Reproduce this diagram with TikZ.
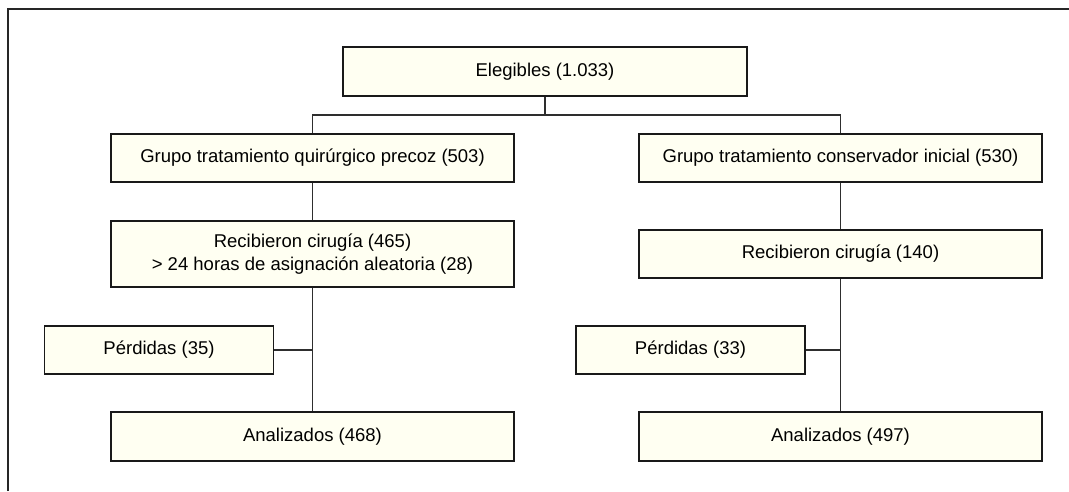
\documentclass[tikz,border=0pt]{standalone}
\usepackage{fontspec}
\setmainfont{Liberation Sans}
\definecolor{cajafondo}{HTML}{FFFFF2}
\definecolor{lineagris}{HTML}{2E2E2E}

\begin{document}
\begin{tikzpicture}[x=1pt,y=-1pt,
    caja/.style={draw=black!90,fill=cajafondo,line width=1.5pt,minimum width=403pt,minimum height=48pt,inner sep=0pt,align=center,font=\fontsize{18.5}{22.5}\selectfont},
    chica/.style={caja,minimum width=229pt},
    enlace/.style={draw=lineagris,line width=1.5pt}]
    \useasboundingbox (0,0) rectangle (1069,491);
    % marco
    \draw[line width=1.7pt,black!85] (8,491) -- (8,9) -- (1069,9);

    \node[caja,minimum width=404pt,minimum height=49pt] (elegibles) at (545,71.5) {Elegibles (1.033)};

    \node[caja] (grupoA) at (312.5,158) {Grupo tratamiento quirúrgico precoz (503)};
    \node[caja] (grupoB) at (840.5,158) {Grupo tratamiento conservador inicial (530)};

    \node[caja,minimum height=66pt] (cirugiaA) at (312.5,254) {Recibieron cirugía (465)\\ > 24 horas de asignación aleatoria (28)};
    \node[caja] (cirugiaB) at (840.5,254) {Recibieron cirugía (140)};

    \node[chica] (perdidasA) at (159,350) {Pérdidas (35)};
    \node[chica] (perdidasB) at (690.5,350) {Pérdidas (33)};

    \node[caja,minimum height=49pt] (analizadosA) at (312.5,436.5) {Analizados (468)};
    \node[caja,minimum height=49pt] (analizadosB) at (840.5,436.5) {Analizados (497)};

    % conexiones
    \coordinate (reparto) at ([yshift=-18pt]elegibles.south);
    \draw[enlace] (elegibles.south) -- (reparto) -| (grupoA.north);
    \draw[enlace] (reparto) -| (grupoB.north);
    \draw[enlace] (grupoA) -- (cirugiaA);
    \draw[enlace] (grupoB) -- (cirugiaB);
    \draw[enlace] (cirugiaA) -- (analizadosA);
    \draw[enlace] (cirugiaB) -- (analizadosB);
    \draw[enlace] (perdidasA.east) -- (perdidasA.east -| cirugiaA.south);
    \draw[enlace] (perdidasB.east) -- (perdidasB.east -| cirugiaB.south);
\end{tikzpicture}
\end{document}
